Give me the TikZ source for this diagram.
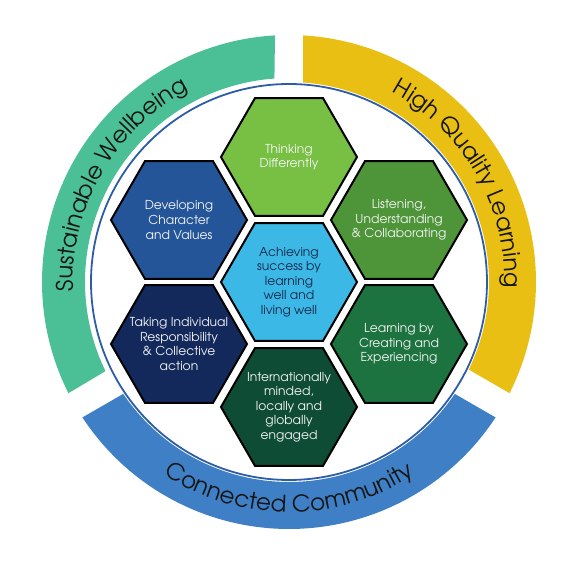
\documentclass[tikz,border=0pt]{standalone}
\usepackage{fontspec}
\newfontfamily\ringfont{TeX Gyre Adventor}
\usetikzlibrary{shapes.geometric,decorations.text}
\definecolor{bandteal}{HTML}{4BBF95}
\definecolor{bandyellow}{HTML}{E9BF14}
\definecolor{bandblue}{HTML}{3F7FC5}
\definecolor{thincircle}{HTML}{2C5DA6}
\definecolor{hexlime}{HTML}{77C043}
\definecolor{hexgreen}{HTML}{4D9538}
\definecolor{hexforest}{HTML}{1C7340}
\definecolor{hexpine}{HTML}{0F4C36}
\definecolor{hexnavy}{HTML}{13295C}
\definecolor{hexblue}{HTML}{245598}
\definecolor{hexsky}{HTML}{3CB8E6}
\definecolor{hexwhite}{HTML}{F4F4F4}
\definecolor{centertext}{HTML}{13294B}
\definecolor{ringtext}{HTML}{151515}
\begin{document}
\begin{tikzpicture}[x=1pt,y=1pt,
  hex/.style={regular polygon, regular polygon sides=6, minimum size=136pt,
    inner sep=0pt, draw=black, line width=2pt},
  hextext/.style={font=\ringfont\fontsize{12.3}{14.6}\selectfont, text=hexwhite,
    align=center, inner sep=0pt},
  ringlabel/.style={decorate, decoration={text along path, text align=center,
    text color=ringtext}}
]
\useasboundingbox (-289,-282) rectangle (278,282);
% thin circle
\draw[thincircle, line width=1.8pt] (0,0) circle[radius=198];
% ring segments (gaps of width 28 centred on 90, 210, 330 degrees)
\fill[bandteal] (93.25:247) arc[start angle=93.25, end angle=206.75, radius=247]
  -- (205.9:204) arc[start angle=205.9, end angle=94.1, radius=204] -- cycle;
\fill[bandyellow] (-26.75:247) arc[start angle=-26.75, end angle=86.75, radius=247]
  -- (85.98:200) arc[start angle=85.98, end angle=-25.98, radius=200] -- cycle;
\fill[bandblue] (213.25:247) arc[start angle=213.25, end angle=326.75, radius=247]
  -- (325.98:200) arc[start angle=325.98, end angle=214.02, radius=200] -- cycle;
% ring labels
\path[ringlabel, decoration={text={|\ringfont\fontsize{23}{28}\selectfont|Sustainable Wellbeing}}]
  (200:216) arc[start angle=200, end angle=100, radius=216];
\path[ringlabel, decoration={text={|\ringfont\fontsize{23}{28}\selectfont|High Quality Learning}}]
  (80:216) arc[start angle=80, end angle=-20, radius=216];
\path[ringlabel, decoration={text={|\ringfont\fontsize{23}{28}\selectfont|Connected Community}}]
  (220:230) arc[start angle=220, end angle=320, radius=230];
% hexagons
\node[hex, fill=hexsky]    (center)   at (0,0) {};
\node[hex, fill=hexlime]   (thinking) at (0,125) {};
\node[hex, fill=hexgreen]  (listen)   at (110,62) {};
\node[hex, fill=hexforest] (create)   at (110,-62) {};
\node[hex, fill=hexpine]   (intl)     at (0,-125) {};
\node[hex, fill=hexnavy]   (taking)   at (-110,-62) {};
\node[hex, fill=hexblue]   (develop)  at (-110,62) {};
% hexagon texts
\node[hextext, text=centertext] at (center) {Achieving\\success by\\learning\\well and\\living well};
\node[hextext] at (thinking) {Thinking\\Differently};
\node[hextext] at (listen) {Listening,\\Understanding\\\& Collaborating};
\node[hextext] at (create) {Learning by\\Creating and\\Experiencing};
\node[hextext] at (intl) {Internationally\\minded,\\locally and\\globally\\engaged};
\node[hextext] at (taking) {Taking Individual\\Responsibility\\\& Collective\\action};
\node[hextext] at (develop) {Developing\\Character\\and Values};
\end{tikzpicture}
\end{document}
